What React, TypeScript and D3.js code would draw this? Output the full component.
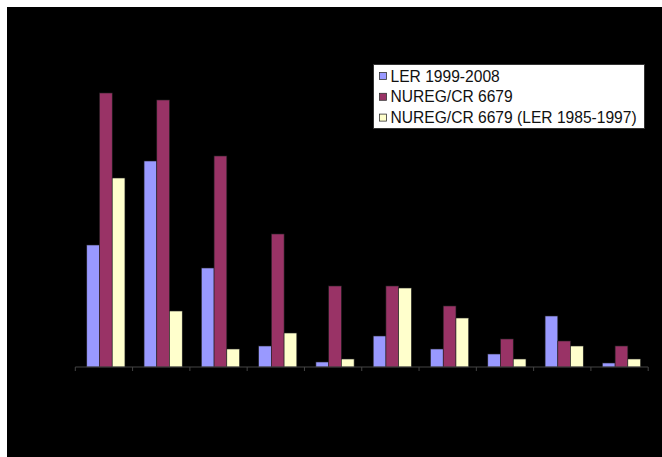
import React from "react";
import * as d3 from "d3";

const categories = ["C1", "C2", "C3", "C4", "C5", "C6", "C7", "C8", "C9", "C10"];
const seriesNames = ["LER 1999-2008", "NUREG/CR 6679", "NUREG/CR 6679 (LER 1985-1997)"];
const ler19992008 = [12.2, 20.6, 9.9, 2.1, 0.5, 3.1, 1.8, 1.3, 5.1, 0.4];
const nureg6679 = [27.4, 26.7, 21.1, 13.3, 8.1, 8.1, 6.1, 2.8, 2.6, 2.1];
const nuregLer19851997 = [18.9, 5.6, 1.8, 3.4, 0.8, 7.9, 4.9, 0.8, 2.1, 0.8];
const seriesColors = ["#9999FF", "#993366", "#FFFFCC"];

const W = 662;
const H = 457;

export default function App() {
  const seriesValues = [ler19992008, nureg6679, nuregLer19851997];
  const x = d3.scaleBand<string>().domain(categories).range([75.3, 648.2]).paddingInner(0).paddingOuter(0);
  const xs = d3
    .scaleBand<string>()
    .domain(seriesNames)
    .range([0, x.bandwidth()])
    .paddingInner(0)
    .paddingOuter(0.75)
    .align(0.6);
  const y = d3.scaleLinear().domain([0, 30]).range([367, 67]);
  const y0 = y(0);
  const ticks = [...categories.map((c) => x(c) as number), x.range()[1]];

  return (
    <svg
      width={W}
      height={H}
      style={{ position: "absolute", left: 0, top: 0, display: "block" }}
      fontFamily="'Liberation Sans', Arial, sans-serif"
    >
      <rect x={0} y={0} width={W} height={H} fill="#ffffff" />
      <rect x={7} y={7} width={W - 7} height={H - 7} fill="#000000" />
      {seriesNames.map((s, si) => (
        <g key={s}>
          {categories.map((c, ci) => {
            const v = seriesValues[si][ci];
            const bx = (x(c) as number) + (xs(s) as number);
            return (
              <rect
                key={c}
                x={bx}
                y={y(v)}
                width={xs.bandwidth()}
                height={y0 - y(v)}
                fill={seriesColors[si]}
                stroke="#222"
                strokeWidth={0.6}
              />
            );
          })}
        </g>
      ))}
      <line x1={x.range()[0]} x2={x.range()[1]} y1={y0} y2={y0} stroke="#444" strokeWidth={1} />
      {ticks.map((t, i) => (
        <line key={i} x1={t} x2={t} y1={y0} y2={y0 + 4} stroke="#444" strokeWidth={1} />
      ))}
      <g>
        <rect x={373.5} y={64.5} width={271} height={64} fill="#ffffff" stroke="#333" strokeWidth={1} />
        {seriesNames.map((s, i) => {
          const cy = 76.5 + i * 20.8;
          return (
            <g key={s}>
              <rect x={379.5} y={cy - 4} width={7} height={7} fill={seriesColors[i]} stroke="#333" strokeWidth={0.8} />
              <text x={390.5} y={cy + 5} fontSize={15.6} fill="#111">
                {s}
              </text>
            </g>
          );
        })}
      </g>
    </svg>
  );
}
